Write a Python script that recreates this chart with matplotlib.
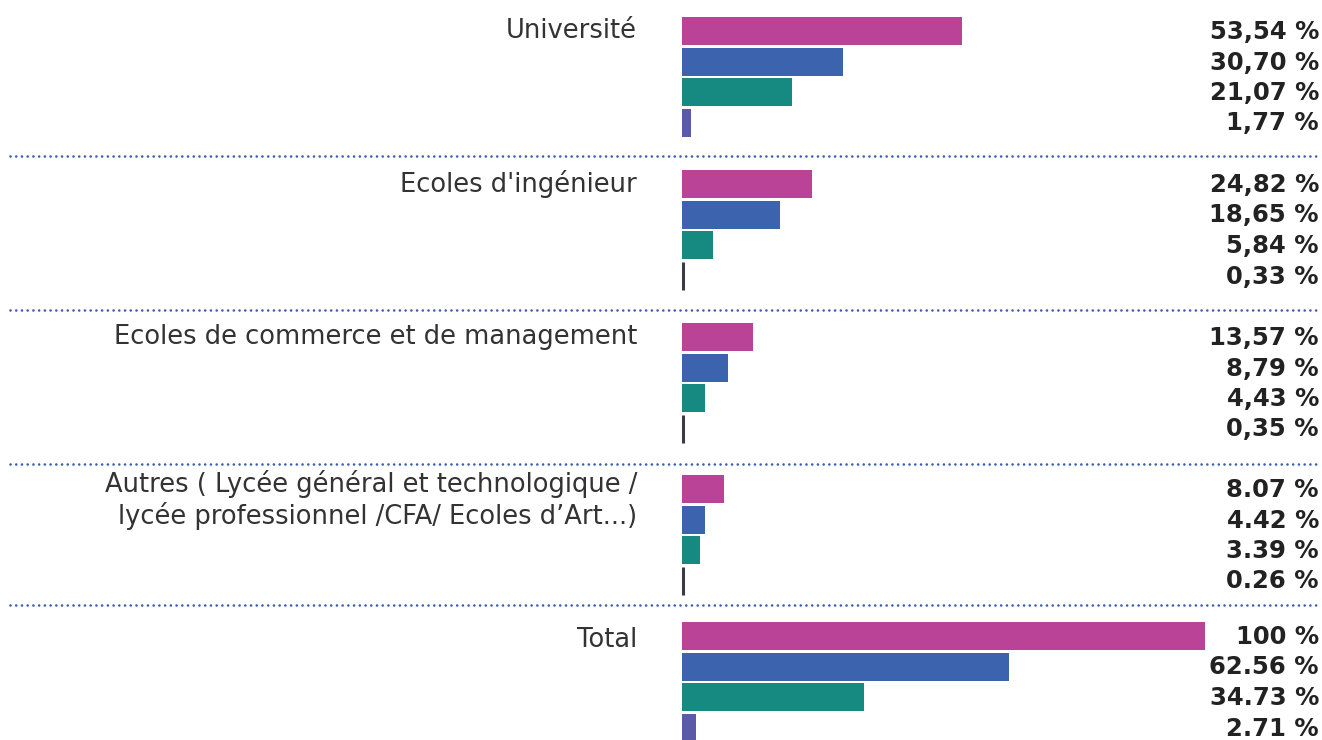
import matplotlib
matplotlib.use("Agg")
import matplotlib.pyplot as plt
from matplotlib.patches import Rectangle

# données (en %)
categories = [
    "Université",
    "Ecoles d'ingénieur",
    "Ecoles de commerce et de management",
    "Autres ( Lycée général et technologique /\nlycée professionnel /CFA/ Ecoles d’Art...)",
    "Total",
]
values = [
    [53.54, 30.70, 21.07, 1.77],
    [24.82, 18.65, 5.84, 0.33],
    [13.57, 8.79, 4.43, 0.35],
    [8.07, 4.42, 3.39, 0.26],
    [100.0, 62.56, 34.73, 2.71],
]
value_labels = [
    ["53,54 %", "30,70 %", "21,07 %", "1,77 %"],
    ["24,82 %", "18,65 %", "5,84 %", "0,33 %"],
    ["13,57 %", "8,79 %", "4,43 %", "0,35 %"],
    ["8.07 %", "4.42 %", "3.39 %", "0.26 %"],
    ["100 %", "62.56 %", "34.73 %", "2.71 %"],
]
colors = ["#bb4397", "#3c63ad", "#168a80", "#5a5aa8"]

W, H = 1322, 740
X0 = 682          # pixel du 0 %
PX = 5.23         # pixels pour 1 %
GROUP_TOP = [17, 170, 323, 475, 622]
BAR_H = 28
BAR_PITCH = 30.5
SEP_Y = [156, 310, 464, 605]

fig = plt.figure(figsize=(W / 100, H / 100), dpi=100)
ax = fig.add_axes([0, 0, 1, 1])
ax.set_xlim(-X0 / PX, (W - X0) / PX)
ax.set_ylim(H, 0)
ax.axis("off")

x_cat = (637 - X0) / PX
x_val = (1319 - X0) / PX

for g, (cat, vals, labs) in enumerate(zip(categories, values, value_labels)):
    top = GROUP_TOP[g]
    for i, (v, lab) in enumerate(zip(vals, labs)):
        y = top + i * BAR_PITCH
        if v < 0.5:
            # barre trop fine -> simple trait sombre
            ax.plot([0.1, 0.1], [y, y + BAR_H], color="#3a3a48", lw=2.2,
                    solid_capstyle="butt")
        else:
            ax.add_patch(Rectangle((0, y), v, BAR_H, color=colors[i], lw=0))
        ax.text(x_val, y + BAR_H / 2 + 1, lab, ha="right", va="center",
                fontsize=17.5, fontweight="bold", color="#222222")
    if "\n" in cat:
        l1, l2 = cat.split("\n")
        ax.text(x_cat, top + 9, l1, ha="right", va="center", fontsize=18.5,
                color="#333333")
        ax.text(x_cat, top + 41, l2, ha="right", va="center", fontsize=18.5,
                color="#333333")
    else:
        dy = 18 if g == len(categories) - 1 else 14
        ax.text(x_cat, top + dy, cat, ha="right", va="center", fontsize=18.5,
                color="#333333")

for y in SEP_Y:
    ax.plot([(10 - X0) / PX, (1318 - X0) / PX], [y, y], color="#3a5db0",
            lw=1.9, ls=(0, (0.01, 2.16)), dash_capstyle="round")

plt.savefig("out.png", dpi=100)
